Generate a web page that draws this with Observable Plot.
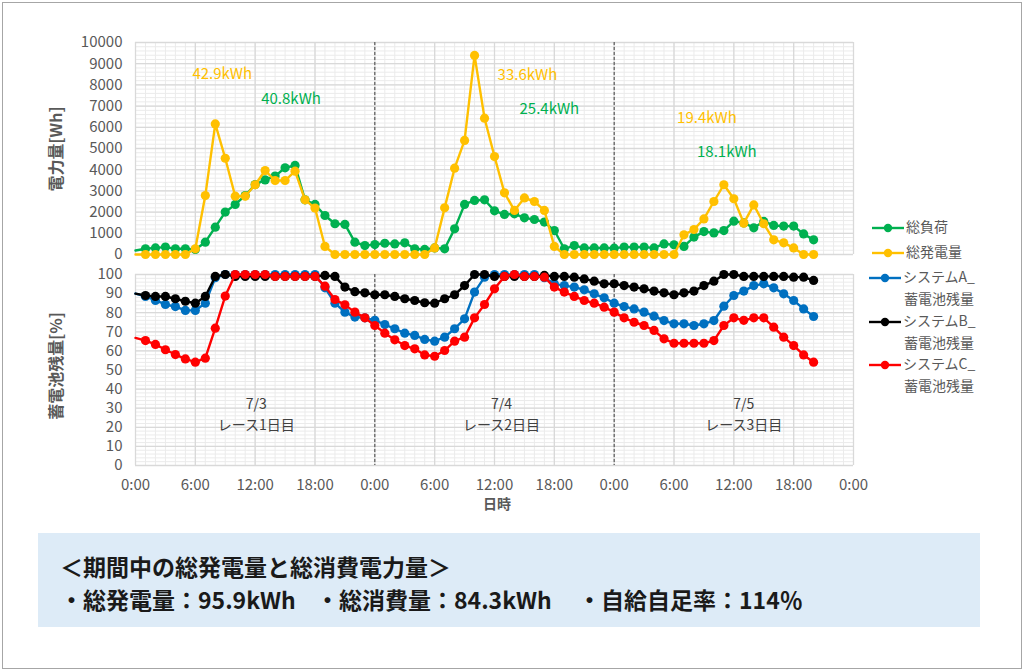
<!DOCTYPE html>
<html>
<head>
<meta charset="utf-8">
<script src="https://cdn.jsdelivr.net/npm/d3@7"></script>
<script src="https://cdn.jsdelivr.net/npm/@observablehq/plot@0.6"></script>
<style>
  html, body { margin: 0; padding: 0; background: #fff; }
  #wrap { position: relative; width: 1024px; height: 671px; overflow: hidden; font-family: "Noto Sans CJK JP", "Noto Sans", sans-serif; }
  .abs { position: absolute; }
  #frame { left: 2px; top: 2px; width: 1018px; height: 665px; border: 1px solid #A6A6A6; }
  .ytitle { color: #595959; font-weight: bold; font-size: 16px; white-space: nowrap; transform: translate(-50%, -50%) rotate(-90deg); }
  #xtitle { left: 497px; top: 503px; transform: translate(-50%, -50%); color: #595959; font-weight: bold; font-size: 14px; }
  #legend { left: 868px; top: 212px; color: #595959; font-size: 14px; }
  .lg { position: absolute; white-space: nowrap; line-height: 20px; }
  .lg svg { vertical-align: middle; }
  #box { left: 38px; top: 533px; width: 942px; height: 94px; background: #DDEBF7; }
  .bt { position: absolute; font-size: 23px; font-weight: bold; color: #1a1a1a; white-space: nowrap; line-height: 30px; }
</style>
</head>
<body>
<div id="wrap">
  <div id="frame" class="abs"></div>
  <div id="top" class="abs" style="left:0;top:0"></div>
  <div id="bottom" class="abs" style="left:0;top:262px"></div>
  <div class="abs ytitle" style="left:55px;top:149px">電力量[Wh]</div>
  <div class="abs ytitle" style="left:55px;top:366px">蓄電池残量[%]</div>
  <div id="xtitle" class="abs">日時</div>
  <div id="legend" class="abs"></div>
  <div id="box" class="abs"></div>
</div>
<script>
// ---- data (hourly from 7/3 0:00) ----
const seriesNames = ["総負荷", "総発電量", "システムA_蓄電池残量", "システムB_蓄電池残量", "システムC_蓄電池残量"];
const seriesColors = ["#00B050", "#FFC000", "#0070C0", "#000000", "#FF0000"];

// 総負荷 [Wh]
const load = [190,270,310,350,270,270,240,580,1290,2000,2360,2780,3300,3520,3700,4090,4200,2580,2360,1840,1450,1420,580,420,
  470,530,500,550,270,240,310,270,1210,2360,2550,2580,2060,1890,1920,1730,1650,1530,1130,270,420,310,310,310,
  300,350,350,350,310,500,460,380,820,1080,1020,1130,1570,1490,1260,1560,1370,1340,1340,970,690];
// 総発電量 [Wh]
const generation = [0,0,0,0,0,0,270,2780,6160,4540,2750,2750,3290,3960,3490,3490,3930,2580,2190,380,0,0,0,0,
  0,0,0,0,0,0,310,2200,4070,5380,9390,6430,4620,2910,2080,2670,2500,2080,380,0,0,0,0,0,
  0,0,0,0,0,0,0,930,1180,1680,2500,3290,2630,1480,2340,1450,690,550,310,0,0];
// 蓄電池残量 [%]
const socA = [90,88.5,86.4,84.3,83.2,81.2,81.2,85,98.3,100,100,100,100,100,100,100,100,100,100,93,85,80.3,77.7,77.3,
  76,73.8,71.6,69.3,68.1,66,65.1,67.2,71.6,76.8,90.8,98.6,100,100,100,100,100,98.3,95.1,94.2,93.4,92,89.9,87.8,
  85,83.2,82,80.3,78.2,75.9,74.2,74.2,73.3,74.2,75.9,83.4,89,91.3,94.2,95.1,93,89.9,86.4,82,78];
const socB = [90,89,88.5,88.5,87.3,86,85,88.5,99,100,99,99,99,99,99,99,99,99,99,99.5,99,93.4,91,90.4,
  89.4,89.4,88.5,87.3,86.4,85.2,85,87.3,89.4,94.2,100,100,99,99,99,99,99,99.5,99,99,98.6,97.7,96.5,95.1,
  95.1,94.2,93.4,92.5,91.3,90.4,89.4,90.4,91.3,94.2,96.5,100,100,99,99,99,99,99,98.6,98.6,96.9];
const socC = [66.8,65.4,63.4,60.6,58.1,55.8,54.1,56.2,71.9,88.7,100,100,100,100,99,99,99,99,99,93.9,86.9,84.1,80.3,77.3,
  73.3,69.3,65.8,62.8,61.1,57.9,57.2,60.2,65.1,67.2,77.3,84.3,92.5,99,100,99,99,98.6,93.4,90.8,88.5,86.4,85,82.9,
  80.3,77.3,75,73.3,70.7,66.3,64,64,64,64,65.4,73.3,77.3,76,77.3,77.3,72.4,67.2,62.8,57.9,54.1];

// tick labels
const xTicks = [0,6,12,18,24,30,36,42,48,54,60,66,72];
const xTickLabels = ["0:00","6:00","12:00","18:00","0:00","6:00","12:00","18:00","0:00","6:00","12:00","18:00","0:00"];
const yTicksTop = [0,1000,2000,3000,4000,5000,6000,7000,8000,9000,10000];
const yTicksBottom = [0,10,20,30,40,50,60,70,80,90,100];
const dayBoundaries = [24, 48];

// daily totals annotations (position in hours / Wh)
const annoText = ["42.9kWh","40.8kWh","33.6kWh","25.4kWh","19.4kWh","18.1kWh"];
const annoSeries = [1,0,1,0,1,0];
const annoX = [8.7,15.6,39.3,41.5,57.3,59.3];
const annoY = [8490,7310,8450,6840,6410,4840];

// day labels (position in hours / %)
const dayText = ["7/3\nレース1日目","7/4\nレース2日目","7/5\nレース3日目"];
const dayX = [12.1,36.7,61];
const dayY = [27.7,27.7,27.7];

// summary box
const summaryTitle = "＜期間中の総発電量と総消費電力量＞";
const summaryItems = ["・総発電量：95.9kWh","・総消費量：84.3kWh","・自給自足率：114％"];

// ---- build ----
const toRows = arr => arr.map((v, h) => ({h, v}));
const topSeries = [load, generation].map(toRows);
const botSeries = [socA, socB, socC].map(toRows);

const W = 1024, L = 135, R = W - 853;
const font = {fontFamily: '"Noto Sans CJK JP", "Noto Sans", sans-serif', fontSize: "15px", color: "#595959", background: "transparent", overflow: "visible"};

function grid(yMax, yMinorStep, yMajorStep) {
  return [
    Plot.ruleY(d3.range(0, yMax + 1e-9, yMinorStep), {stroke: "#EBEBEB", strokeWidth: 1}),
    Plot.ruleX(d3.range(0, 73, 1), {stroke: "#EBEBEB", strokeWidth: 1}),
    Plot.ruleY(d3.range(0, yMax + 1e-9, yMajorStep), {stroke: "#D9D9D9", strokeWidth: 1.3}),
    Plot.ruleX(xTicks, {stroke: "#D9D9D9", strokeWidth: 1.3}),
    Plot.ruleX(dayBoundaries, {stroke: "#404040", strokeWidth: 1, strokeDasharray: "3,2"})
  ];
}
function seriesMarks(rows, color) {
  return [
    Plot.line(rows, {x: "h", y: "v", stroke: color, strokeWidth: 2.4}),
    Plot.dot(rows.filter(d => d.h >= 1), {x: "h", y: "v", r: 4.6, fill: color, stroke: "none"})
  ];
}

const topPlot = Plot.plot({
  width: W, height: 262,
  marginLeft: L, marginRight: R, marginTop: 42, marginBottom: 8,
  style: font,
  x: {domain: [0, 72], axis: null},
  y: {domain: [0, 10000]},
  marks: [
    ...grid(10000, 200, 1000),
    Plot.axisY({ticks: yTicksTop, tickFormat: d => String(d), tickSize: 0, tickPadding: 13, label: null, fontSize: 15}),
    ...seriesMarks(topSeries[0], seriesColors[0]),
    ...seriesMarks(topSeries[1], seriesColors[1]),
    Plot.text(annoText, {x: (d, i) => annoX[i], y: (d, i) => annoY[i], text: d => d,
      fill: (d, i) => seriesColors[annoSeries[i]], fontSize: 15})
  ]
});
document.getElementById("top").appendChild(topPlot);

const bottomPlot = Plot.plot({
  width: W, height: 248,
  marginLeft: L, marginRight: R, marginTop: 12, marginBottom: 45,
  style: font,
  x: {domain: [0, 72]},
  y: {domain: [0, 100]},
  marks: [
    ...grid(100, 2, 10),
    Plot.axisY({ticks: yTicksBottom, tickFormat: d => String(d), tickSize: 0, tickPadding: 13, label: null, fontSize: 15}),
    Plot.axisX({ticks: xTicks, tickFormat: (d) => xTickLabels[xTicks.indexOf(d)], tickSize: 0, tickPadding: 14, label: null, fontSize: 15}),
    ...seriesMarks(botSeries[0], seriesColors[2]),
    ...seriesMarks(botSeries[1], seriesColors[3]),
    ...seriesMarks(botSeries[2], seriesColors[4]),
    Plot.text(dayText, {x: (d, i) => dayX[i], y: (d, i) => dayY[i], text: d => d,
      fill: "#404040", fontSize: 14, lineHeight: 1.5})
  ]
});
document.getElementById("bottom").appendChild(bottomPlot);

// legend
const legend = document.getElementById("legend");
const legendRows = [
  {i: 0, lines: ["総負荷"], top: 4, sx: 4},
  {i: 1, lines: ["総発電量"], top: 29, sx: 4},
  {i: 2, lines: ["システムA_", "蓄電池残量"], top: 54, sx: 1},
  {i: 3, lines: ["システムB_", "蓄電池残量"], top: 98, sx: 1},
  {i: 4, lines: ["システムC_", "蓄電池残量"], top: 141, sx: 1}
];
legendRows.forEach(r => {
  const c = seriesColors[r.i];
  const div = document.createElement("div");
  div.className = "lg";
  div.style.top = r.top + "px";
  div.style.left = r.sx + "px";
  div.innerHTML = `<svg width="32" height="12"><line x1="0" x2="32" y1="6" y2="6" stroke="${c}" stroke-width="2.4"/><circle cx="16" cy="6" r="4.2" fill="${c}"/></svg><span style="margin-left:2px">${r.lines[0]}</span>`
    + (r.lines[1] ? `<div style="margin-left:35px;margin-top:2px">${r.lines[1]}</div>` : "");
  legend.appendChild(div);
});

// summary box
const box = document.getElementById("box");
const t1 = document.createElement("div");
t1.className = "bt"; t1.style.left = "22px"; t1.style.top = "18px"; t1.textContent = summaryTitle;
box.appendChild(t1);
const itemLeft = [22, 278, 540];
summaryItems.forEach((s, i) => {
  const d = document.createElement("div");
  d.className = "bt"; d.style.left = itemLeft[i] + "px"; d.style.top = "51px"; d.textContent = s;
  box.appendChild(d);
});
</script>
</body>
</html>
